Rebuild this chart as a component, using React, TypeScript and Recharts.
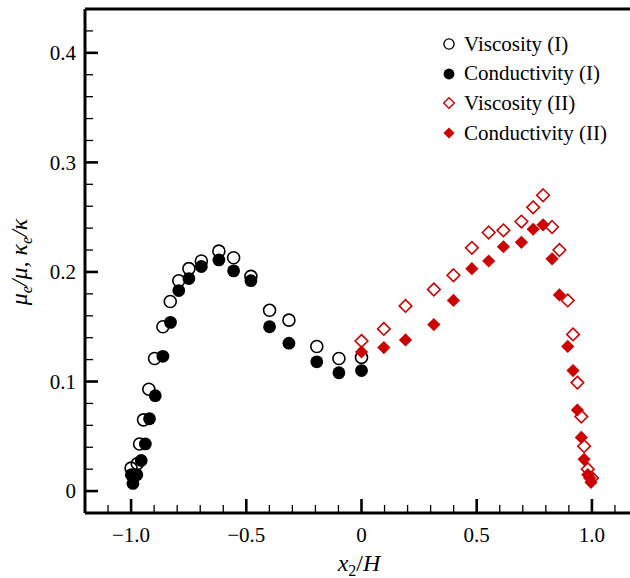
import React from 'react';
import { ScatterChart, Scatter, XAxis, YAxis, Legend, ReferenceLine } from 'recharts';

const RED = '#cc0000';
const FONT = '"Liberation Serif", "Times New Roman", serif';

// [x2/H, value] pairs
const viscosityI = [
  [-1.0, 0.021], [-0.973, 0.025], [-0.963, 0.043], [-0.946, 0.065], [-0.923, 0.093],
  [-0.898, 0.121], [-0.862, 0.15], [-0.83, 0.173], [-0.793, 0.192], [-0.749, 0.203],
  [-0.695, 0.21], [-0.619, 0.219], [-0.555, 0.213], [-0.48, 0.196], [-0.399, 0.165],
  [-0.315, 0.156], [-0.194, 0.132], [-0.098, 0.121], [0.0, 0.122],
];

const conductivityI = [
  [-0.999, 0.015], [-0.992, 0.007], [-0.975, 0.015], [-0.956, 0.028], [-0.938, 0.043],
  [-0.92, 0.066], [-0.895, 0.087], [-0.862, 0.123], [-0.829, 0.154], [-0.793, 0.183],
  [-0.749, 0.194], [-0.695, 0.205], [-0.619, 0.211], [-0.555, 0.201], [-0.48, 0.192],
  [-0.399, 0.15], [-0.315, 0.135], [-0.194, 0.118], [-0.098, 0.108], [0.0, 0.11],
];

const viscosityII = [
  [0.0, 0.137], [0.097, 0.148], [0.191, 0.169], [0.314, 0.184], [0.399, 0.197],
  [0.479, 0.222], [0.552, 0.236], [0.616, 0.238], [0.694, 0.246], [0.745, 0.259],
  [0.788, 0.27], [0.827, 0.241], [0.859, 0.22], [0.895, 0.174], [0.918, 0.143],
  [0.937, 0.099], [0.954, 0.068], [0.966, 0.041], [0.982, 0.02], [1.0, 0.012],
];

const conductivityII = [
  [0.0, 0.127], [0.097, 0.131], [0.191, 0.138], [0.314, 0.152], [0.399, 0.174],
  [0.479, 0.203], [0.552, 0.21], [0.616, 0.223], [0.694, 0.227], [0.745, 0.239],
  [0.788, 0.243], [0.827, 0.212], [0.859, 0.179], [0.895, 0.132], [0.918, 0.11],
  [0.937, 0.074], [0.954, 0.049], [0.966, 0.029], [0.982, 0.015], [0.99, 0.012],
  [0.996, 0.008],
];

const xTicks = [
  -1.1, -1.0, -0.9, -0.8, -0.7, -0.6, -0.5, -0.4, -0.3, -0.2, -0.1, 0,
  0.1, 0.2, 0.3, 0.4, 0.5, 0.6, 0.7, 0.8, 0.9, 1.0, 1.1,
];
const xMajor = [-1.0, -0.5, 0, 0.5, 1.0];
const yTicks = [
  0, 0.02, 0.04, 0.06, 0.08, 0.1, 0.12, 0.14, 0.16, 0.18, 0.2,
  0.22, 0.24, 0.26, 0.28, 0.3, 0.32, 0.34, 0.36, 0.38, 0.4, 0.42,
];
const yMajor = [0, 0.1, 0.2, 0.3, 0.4];

const X_DOMAIN = [-1.2, 1.2];
const Y_DOMAIN = [-0.02, 0.44];

const toPoints = (pairs: number[][]) => pairs.map(([x, y]) => ({ x, y }));

const isMajor = (list: number[], v: number) => list.some((m) => Math.abs(m - v) < 1e-6);

const fmtX = (v: number) => (v === 0 ? '0' : (v < 0 ? '\u2212' : '') + Math.abs(v).toFixed(1));
const fmtY = (v: number) => (v === 0 ? '0' : v.toFixed(1));

// ticks point inward, Tecplot style
const XTick = (props: any) => {
  const x = Number(props.x);
  const y = Number(props.y);
  const major = isMajor(xMajor, props.payload.value);
  return (
    <g>
      <path d={`M${x},${y}V${y - (major ? 14 : 8)}`} stroke="#000" strokeWidth={major ? 2.6 : 1.3} fill="none" />
      {major && (
        <text x={x} y={y + 29} textAnchor="middle" fontFamily={FONT} fontSize={21} fill="#000">
          {fmtX(props.payload.value)}
        </text>
      )}
    </g>
  );
};

const YTick = (props: any) => {
  const x = Number(props.x);
  const y = Number(props.y);
  const major = isMajor(yMajor, props.payload.value);
  return (
    <g>
      <path d={`M${x},${y}H${x + (major ? 13 : 8)}`} stroke="#000" strokeWidth={major ? 2.6 : 1.3} fill="none" />
      {major && (
        <text x={x - 9} y={y} dy="0.35em" textAnchor="end" fontFamily={FONT} fontSize={21} fill="#000">
          {fmtY(props.payload.value)}
        </text>
      )}
    </g>
  );
};

const XLabel = () => (
  <text x={359} y={571} textAnchor="middle" fontFamily={FONT} fontSize={24} fill="#000">
    <tspan fontStyle="italic">x</tspan>
    <tspan dy={5} fontSize={16}>2</tspan>
    <tspan dy={-5}>/</tspan>
    <tspan fontStyle="italic">H</tspan>
  </text>
);

const YLabel = () => (
  <text transform="translate(27,262) rotate(-90)" textAnchor="middle" fontFamily={FONT} fontStyle="italic" fontSize={24} fill="#000">
    <tspan>μ</tspan>
    <tspan dy={5} fontSize={16}>e</tspan>
    <tspan dy={-5}>/μ, κ</tspan>
    <tspan dy={5} fontSize={16}>e</tspan>
    <tspan dy={-5}>/κ</tspan>
  </text>
);

const diamond = (cx: number, cy: number, r: number) =>
  `M${cx},${cy - r}L${cx + r},${cy}L${cx},${cy + r}L${cx - r},${cy}Z`;

const OpenCircle = ({ cx, cy }: any) => (
  <circle cx={cx} cy={cy} r={6} fill="none" stroke="#000" strokeWidth={1.6} />
);
const FilledCircle = ({ cx, cy }: any) => <circle cx={cx} cy={cy} r={6.4} fill="#000" />;
const OpenDiamond = ({ cx, cy }: any) => (
  <path d={diamond(cx, cy, 6.3)} fill="none" stroke={RED} strokeWidth={1.6} />
);
const FilledDiamond = ({ cx, cy }: any) => <path d={diamond(cx, cy, 6.6)} fill={RED} />;

const legendItems = [
  { label: 'Viscosity (I)', Marker: OpenCircle },
  { label: 'Conductivity (I)', Marker: FilledCircle },
  { label: 'Viscosity (II)', Marker: OpenDiamond },
  { label: 'Conductivity (II)', Marker: FilledDiamond },
];

const renderLegend = () => (
  <div style={{ fontFamily: FONT, fontSize: 21, color: '#000', lineHeight: 1 }}>
    {legendItems.map(({ label, Marker }) => (
      <div key={label} style={{ display: 'flex', alignItems: 'center', height: 29.6 }}>
        <svg width={16} height={16} style={{ overflow: 'visible' }}>
          <g transform="translate(8,8) scale(0.85)">
            <Marker cx={0} cy={0} />
          </g>
        </svg>
        <span style={{ marginLeft: 7 }}>{label}</span>
      </div>
    ))}
  </div>
);

export default function App() {
  return (
    <div style={{ position: 'absolute', left: 0, top: 0, width: 630, height: 578, overflow: 'hidden', background: '#fff' }}>
      <ScatterChart width={640} height={578} margin={{ top: 9, right: 2, bottom: 0, left: 0 }}>
        <XAxis
          type="number"
          dataKey="x"
          domain={X_DOMAIN}
          ticks={xTicks}
          interval={0}
          tickSize={0}
          tickMargin={0}
          tickLine={false}
          tick={XTick}
          height={65}
          axisLine={{ stroke: '#000', strokeWidth: 3 }}
          allowDataOverflow
          label={<XLabel />}
        />
        <YAxis
          type="number"
          dataKey="y"
          domain={Y_DOMAIN}
          ticks={yTicks}
          interval={0}
          tickSize={0}
          tickMargin={0}
          tickLine={false}
          tick={YTick}
          width={85}
          axisLine={{ stroke: '#000', strokeWidth: 3 }}
          allowDataOverflow
          label={<YLabel />}
        />
        <ReferenceLine y={Y_DOMAIN[1]} stroke="#000" strokeWidth={3} ifOverflow="visible" />
        <Legend
          layout="vertical"
          align="center"
          verticalAlign="middle"
          content={renderLegend}
          wrapperStyle={{ left: 441, top: 29.5, width: 190, height: 120 }}
        />
        <Scatter name="Viscosity (I)" data={toPoints(viscosityI)} shape={<OpenCircle />} isAnimationActive={false} />
        <Scatter name="Conductivity (I)" data={toPoints(conductivityI)} shape={<FilledCircle />} isAnimationActive={false} />
        <Scatter name="Viscosity (II)" data={toPoints(viscosityII)} shape={<OpenDiamond />} isAnimationActive={false} />
        <Scatter name="Conductivity (II)" data={toPoints(conductivityII)} shape={<FilledDiamond />} isAnimationActive={false} />
      </ScatterChart>
    </div>
  );
}
